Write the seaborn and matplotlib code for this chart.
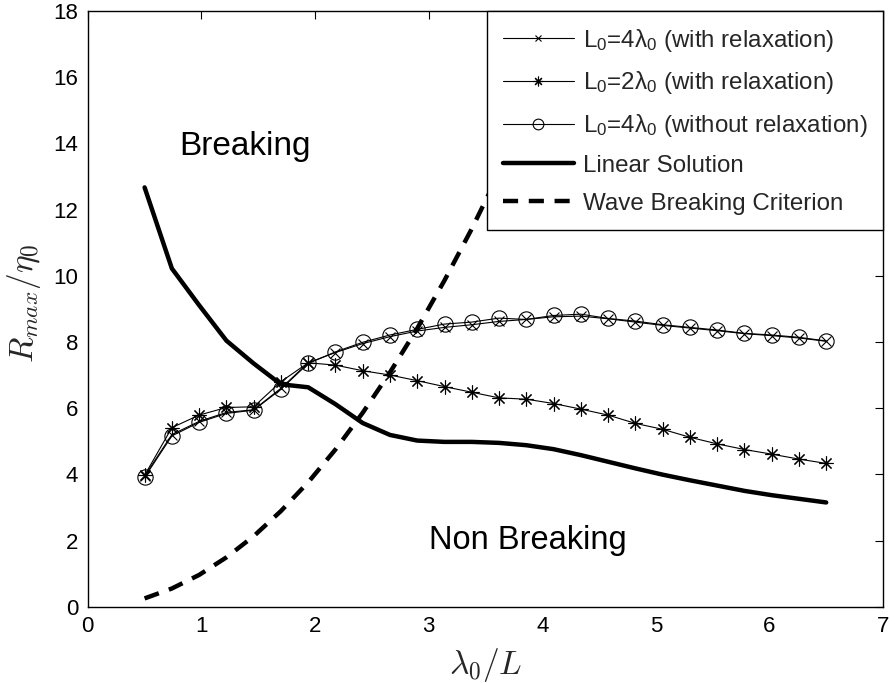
import matplotlib
matplotlib.use("Agg")
import matplotlib.pyplot as plt
import seaborn as sns
import pandas as pd

# ---- data ----
lam_ratio = [0.50, 0.74, 0.98, 1.22, 1.46, 1.70, 1.94, 2.18, 2.42, 2.66, 2.90, 3.14, 3.38,
             3.62, 3.86, 4.10, 4.34, 4.58, 4.82, 5.06, 5.30, 5.54, 5.78, 6.02, 6.26, 6.50]

r_L4_relax = [3.95, 5.20, 5.60, 5.87, 5.95, 6.60, 7.37, 7.68, 7.95, 8.16, 8.33, 8.44, 8.52,
              8.62, 8.68, 8.76, 8.78, 8.70, 8.60, 8.50, 8.42, 8.34, 8.25, 8.19, 8.12, 8.02]

r_L2_relax = [3.97, 5.41, 5.79, 6.02, 6.04, 6.80, 7.37, 7.30, 7.13, 7.00, 6.83, 6.65, 6.48,
              6.31, 6.27, 6.14, 5.97, 5.79, 5.54, 5.36, 5.12, 4.92, 4.75, 4.61, 4.46, 4.33]

r_L4_norelax = [3.91, 5.16, 5.57, 5.84, 5.94, 6.57, 7.35, 7.70, 7.99, 8.21, 8.38, 8.54, 8.60,
                8.72, 8.68, 8.80, 8.84, 8.71, 8.63, 8.52, 8.44, 8.36, 8.26, 8.21, 8.14, 8.03]

r_linear = [12.67, 10.22, 9.11, 8.04, 7.35, 6.72, 6.63, 6.12, 5.55, 5.19, 5.02, 4.98, 4.98,
            4.95, 4.88, 4.76, 4.58, 4.38, 4.18, 3.99, 3.82, 3.66, 3.50, 3.37, 3.26, 3.15]

crit_x = [0.50, 0.74, 0.98, 1.22, 1.46, 1.70, 1.94, 2.18, 2.42, 2.66, 2.90, 3.14, 3.38,
          3.62, 3.86, 4.10, 4.34]
crit_y = [0.25, 0.55, 0.96, 1.49, 2.13, 2.89, 3.76, 4.75, 5.86, 7.08, 8.41, 9.86, 11.42,
          13.10, 14.90, 16.81, 18.84]

labels = ['L$\\mathregular{_0}$=4λ$\\mathregular{_0}$ (with relaxation)',
          'L$\\mathregular{_0}$=2λ$\\mathregular{_0}$ (with relaxation)',
          'L$\\mathregular{_0}$=4λ$\\mathregular{_0}$ (without relaxation)',
          'Linear Solution',
          'Wave Breaking Criterion']

x_ticks = [0, 1, 2, 3, 4, 5, 6, 7]
y_ticks = [0, 2, 4, 6, 8, 10, 12, 14, 16, 18]

# ---- style ----
sns.set_theme(style="white")
plt.rcParams['font.family'] = ['Liberation Sans', 'DejaVu Sans']
plt.rcParams['mathtext.fontset'] = 'cm'

fig = plt.figure(figsize=(8.9, 6.83), dpi=100)
ax = fig.add_axes([87.8 / 890, 1 - 606.7 / 683, (883 - 87.8) / 890, (606.7 - 11) / 683])

df = pd.DataFrame({'x': lam_ratio, 'a': r_L4_relax, 'b': r_L2_relax,
                   'c': r_L4_norelax, 'lin': r_linear})
dfc = pd.DataFrame({'x': crit_x, 'y': crit_y})

sns.lineplot(data=df, x='x', y='a', ax=ax, color='black', lw=0.8, marker='x',
             markersize=7, markeredgewidth=0.8, markeredgecolor='black', label=labels[0])
sns.lineplot(data=df, x='x', y='b', ax=ax, color='black', lw=0.8, marker=(8, 2, 0),
             markersize=10, markeredgewidth=0.8, markeredgecolor='black', label=labels[1])
sns.lineplot(data=df, x='x', y='c', ax=ax, color='black', lw=0.8, marker='o',
             markersize=11, markerfacecolor='none', markeredgewidth=0.8,
             markeredgecolor='black', label=labels[2])
sns.lineplot(data=df, x='x', y='lin', ax=ax, color='black', lw=3.2, label=labels[3])
sns.lineplot(data=dfc, x='x', y='y', ax=ax, color='black', lw=3.2,
             linestyle=(0, (3.4, 2.4)), label=labels[4])

ax.set_xlim(0, 7)
ax.set_ylim(0, 18)
ax.set_xticks(x_ticks)
ax.set_yticks(y_ticks)
ax.tick_params(direction='in', length=6, width=0.8, top=True, right=True,
               labelsize=16, colors='black', pad=7)
for s in ax.spines.values():
    s.set_visible(True)
    s.set_color('black')
    s.set_linewidth(1.0)

ax.set_xlabel('$\\lambda_0/L$', fontsize=24)
ax.set_ylabel('$R_{max}/\\eta_0$', fontsize=24)
ax.xaxis.set_label_coords(0.5, -0.066)
ax.yaxis.set_label_coords(-0.056, 0.51)

ax.text(1.38, 13.9, 'Breaking', fontsize=24, ha='center', va='center', color='black')
ax.text(3.87, 2.0, 'Non Breaking', fontsize=23.5, ha='center', va='center', color='black')

leg = ax.legend(loc='upper right', fontsize=17.4, frameon=True, fancybox=False,
                framealpha=1, edgecolor='black', borderaxespad=0.0, handlelength=2.95,
                handletextpad=0.37, labelspacing=0.65, markerscale=0.7, borderpad=0.65)
leg.get_frame().set_linewidth(1.0)
leg.set_zorder(10)

fig.savefig('out.png', dpi=100)
